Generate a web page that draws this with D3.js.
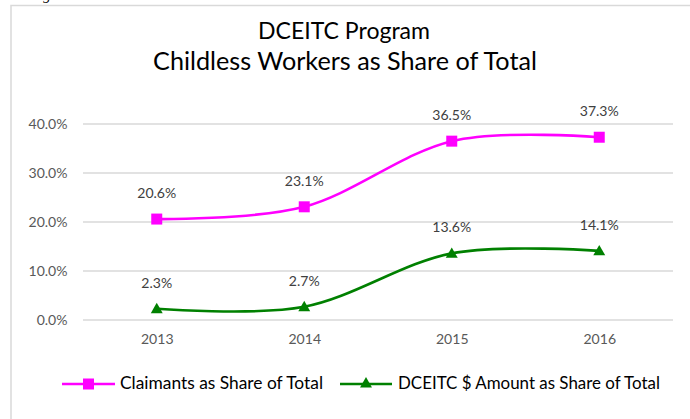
<!DOCTYPE html>
<html>
<head>
<meta charset="utf-8">
<script src="https://cdn.jsdelivr.net/npm/d3@7"></script>
<style>
  html, body { margin: 0; padding: 0; background: #fff; }
  svg { display: block; }
</style>
</head>
<body>
<svg id="chart" width="690" height="419"></svg>
<script>
// ---- data ----
const years = ["2013", "2014", "2015", "2016"];
const claimantsShare = [20.6, 23.1, 36.5, 37.3];
const amountShare = [2.3, 2.7, 13.6, 14.1];
const yTicks = [0, 10, 20, 30, 40];
const seriesNames = ["Claimants as Share of Total", "DCEITC $ Amount as Share of Total"];
const titleLines = ["DCEITC Program", "Childless Workers as Share of Total"];

// ---- setup ----
const svg = d3.select("#chart");
const FONT = "Lato, 'Open Sans', sans-serif";
const pink = "#FF00FF", green = "#008000";

function fitWidth(sel, target) {
  const node = sel.node();
  const fs = parseFloat(sel.attr("font-size"));
  const w = node.getComputedTextLength();
  sel.attr("font-size", (fs * target / w).toFixed(2));
}

// measure small-label font size so "40.0%" is ~39px wide
const probe = svg.append("text").attr("font-family", FONT).attr("font-size", 13).text("40.0%");
const smallFS = 13 * 39 / probe.node().getComputedTextLength();
probe.remove();

// clipped caption above the frame
svg.append("text").attr("x", 30).attr("y", 0)
  .attr("font-family", "'Liberation Serif', serif").attr("font-style", "italic")
  .attr("font-size", 15).attr("fill", "#000").text("Figure 5");

// frame
svg.append("rect").attr("x", 11).attr("y", 5.5).attr("width", 700).attr("height", 430)
  .attr("fill", "none").attr("stroke", "#D9D9D9").attr("stroke-width", 1.5);

// title
const t1 = svg.append("text").attr("x", 344).attr("y", 39).attr("text-anchor", "middle")
  .attr("font-family", FONT).attr("font-size", 20).attr("fill", "#000").text(titleLines[0]);
fitWidth(t1, 172);
const t2 = svg.append("text").attr("x", 345).attr("y", 70).attr("text-anchor", "middle")
  .attr("font-family", FONT).attr("font-size", 20).attr("fill", "#000").text(titleLines[1]);
fitWidth(t2, 384);

// scales
const x = d3.scalePoint().domain(years).range([83, 673]).padding(0.5);
const y = d3.scaleLinear().domain([0, 40]).range([320, 124]);

// gridlines
svg.append("g").selectAll("line").data(yTicks).join("line")
  .attr("x1", 83).attr("x2", 673)
  .attr("y1", d => y(d)).attr("y2", d => y(d))
  .attr("stroke", "#D9D9D9").attr("stroke-width", 1.3);

// y axis labels
const yAxis = d3.axisLeft(y).tickValues(yTicks).tickSize(0).tickPadding(0)
  .tickFormat(d => d.toFixed(1) + "%");
const gy = svg.append("g").attr("transform", "translate(67.5,0)").call(yAxis);
gy.select(".domain").remove();
gy.selectAll("text").attr("font-family", FONT).attr("font-size", smallFS).attr("fill", "#595959");

// x axis labels
const xAxis = d3.axisBottom(x).tickSize(0).tickPadding(0);
const gx = svg.append("g").attr("transform", "translate(0,334)").call(xAxis);
gx.select(".domain").remove();
gx.selectAll("text").attr("font-family", FONT).attr("font-size", smallFS).attr("fill", "#595959");

// lines
const line = d3.line().x((d, i) => x(years[i])).y(d => y(d)).curve(d3.curveCardinal.tension(0));
const series = [
  { name: seriesNames[0], values: claimantsShare, color: pink, marker: d3.symbolSquare, size: 121 },
  { name: seriesNames[1], values: amountShare, color: green, marker: d3.symbolTriangle, size: 62 }
];

series.forEach(s => {
  svg.append("path").datum(s.values).attr("d", line)
    .attr("fill", "none").attr("stroke", s.color).attr("stroke-width", 2.6);
  svg.append("g").selectAll("path").data(s.values).join("path")
    .attr("d", d3.symbol().type(s.marker).size(s.size))
    .attr("transform", (d, i) => `translate(${x(years[i])},${y(d) + (s.marker === d3.symbolTriangle ? 1 : 0)})`)
    .attr("fill", s.color);
  svg.append("g").selectAll("text").data(s.values).join("text")
    .attr("x", (d, i) => x(years[i]))
    .attr("y", d => y(d) - 21)
    .attr("text-anchor", "middle")
    .attr("font-family", FONT).attr("font-size", smallFS).attr("fill", "#404040")
    .text(d => d.toFixed(1) + "%");
});

// legend
const legendY = 384;
const legendItems = [
  { s: series[0], x0: 62, x1: 115, tx: 120, tw: 203 },
  { s: series[1], x0: 340, x1: 392, tx: 398, tw: 262 }
];
legendItems.forEach(it => {
  svg.append("line").attr("x1", it.x0).attr("x2", it.x1).attr("y1", legendY).attr("y2", legendY)
    .attr("stroke", it.s.color).attr("stroke-width", 2.6);
  svg.append("path").attr("d", d3.symbol().type(it.s.marker).size(it.s.size)())
    .attr("transform", `translate(${(it.x0 + it.x1) / 2},${legendY})`).attr("fill", it.s.color);
  const tt = svg.append("text").attr("x", it.tx).attr("y", legendY + 5)
    .attr("font-family", FONT).attr("font-size", 15).attr("fill", "#000").text(it.s.name);
  fitWidth(tt, it.tw);
});
</script>
</body>
</html>
